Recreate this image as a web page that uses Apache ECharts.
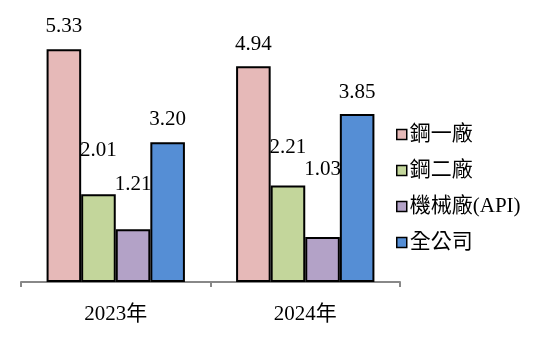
<!DOCTYPE html>
<html><head><meta charset="utf-8">
<script src="https://cdn.jsdelivr.net/npm/echarts@6/dist/echarts.min.js"></script>
<style>html,body{margin:0;padding:0;background:#fff}#c{width:538px;height:348px}</style>
</head><body><div id="c"></div>
<script>
const categories = ['2023年', '2024年'];
const seriesNames = ['鋼一廠', '鋼二廠', '機械廠(API)', '全公司'];
const steel1 = [5.33, 4.94];
const steel2 = [2.01, 2.21];
const machine = [1.21, 1.03];
const company = [3.20, 3.85];

const colors = ['#E6B9B8', '#C3D69B', '#B3A2C7', '#558ED5'];
// label distance above bar top (px), mimicking the reference's hand-placed labels
const labelLift = [[12, 11], [33, 28], [34, 57], [12, 11]];
const values = [steel1, steel2, machine, company];
const FONT = '"Liberation Serif", "Times New Roman", "Noto Sans CJK TC", serif';

const series = seriesNames.map((name, si) => ({
  name, type: 'bar', barGap: '0%', barCategoryGap: '27%',
  itemStyle: { color: colors[si], borderColor: '#000', borderWidth: 2 },
  label: { show: true, position: 'top', color: '#000', fontFamily: FONT, fontSize: 21,
           formatter: p => p.value.toFixed(2) },
  data: values[si].map((v, ci) => ({ value: v, label: { distance: labelLift[si][ci] } }))
}));

const chart = echarts.init(document.getElementById('c'));
chart.setOption({
  animation: false,
  grid: { left: 21, right: 138, top: 20, bottom: 66 },
  legend: {
    orient: 'vertical', left: 391, top: 119, itemWidth: 10, itemHeight: 10, itemGap: 15,
    icon: 'rect',
    itemStyle: { borderColor: '#000', borderWidth: 1.5 },
    textStyle: { fontFamily: FONT, fontSize: 21, color: '#000', padding: [0, 0, 0, -2] },
    data: seriesNames
  },
  xAxis: {
    type: 'category', data: categories,
    axisLine: { lineStyle: { color: '#888', width: 2 } },
    axisTick: { show: true, length: 5, lineStyle: { color: '#888', width: 2 } },
    axisLabel: { fontFamily: FONT, fontSize: 21, color: '#000', margin: 22 }
  },
  yAxis: { type: 'value', min: 0, max: 6, show: false, splitLine: { show: false } },
  series
});
</script></body></html>
